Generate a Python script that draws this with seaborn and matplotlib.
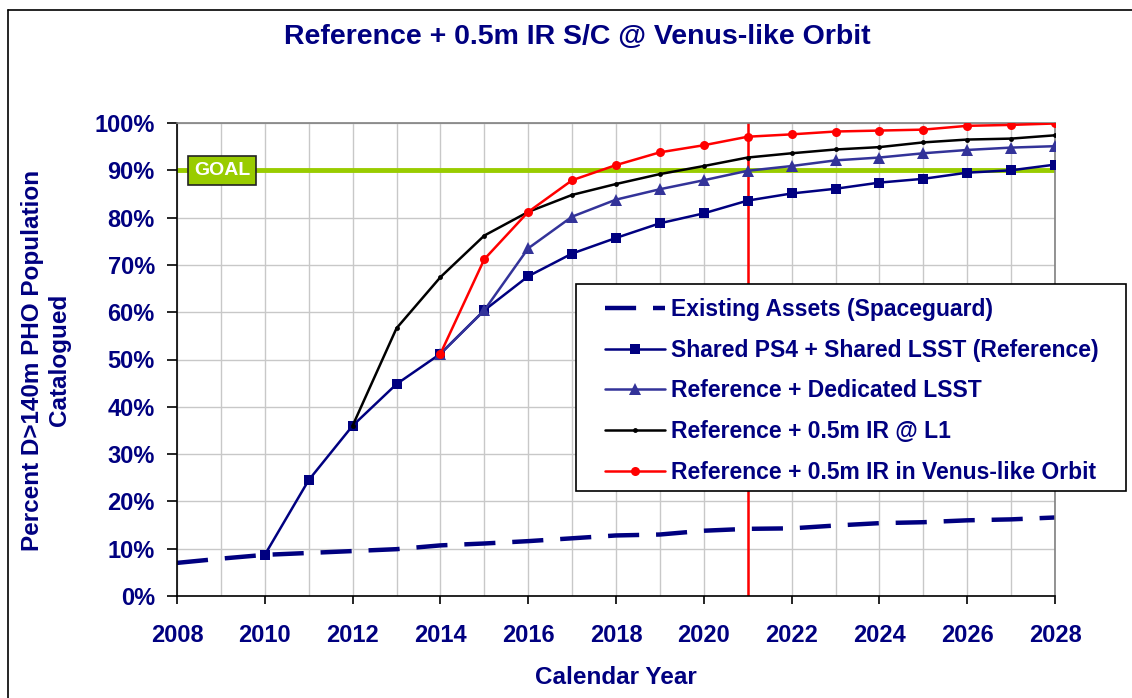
import matplotlib
matplotlib.use("Agg")
import matplotlib.pyplot as plt
import seaborn as sns
import pandas as pd
from matplotlib.patches import Rectangle
from matplotlib.lines import Line2D
from matplotlib.ticker import MultipleLocator, FuncFormatter

# ---------------- data ----------------
years_existing = list(range(2008, 2029))
existing = [7.0, 7.9, 8.7, 9.1, 9.5, 9.9, 10.7, 11.1, 11.6, 12.2, 12.8,
            13.0, 13.8, 14.2, 14.3, 14.9, 15.4, 15.6, 16.0, 16.2, 16.6]

years_ref = list(range(2010, 2029))
reference = [8.7, 24.5, 36.0, 44.8, 51.2, 60.4, 67.6, 72.4, 75.7, 78.8,
             80.9, 83.6, 85.1, 86.1, 87.4, 88.2, 89.5, 90.0, 91.2]

years_ded = list(range(2014, 2029))
dedicated = [51.2, 60.4, 73.5, 80.2, 83.8, 86.0, 87.9, 89.9, 90.9, 92.1,
             92.7, 93.6, 94.3, 94.8, 95.1]

years_l1 = list(range(2012, 2029))
ir_l1 = [36.0, 56.6, 67.4, 76.2, 81.2, 84.8, 87.1, 89.2, 90.9, 92.7,
         93.6, 94.4, 94.9, 95.9, 96.5, 96.7, 97.4]

years_venus = list(range(2014, 2029))
ir_venus = [51.2, 71.2, 81.2, 87.9, 91.1, 93.8, 95.3, 97.1, 97.6, 98.2,
            98.4, 98.6, 99.4, 99.6, 99.9]

goal_value = 90
marker_year = 2021

labels = ["Existing Assets (Spaceguard)",
          "Shared PS4 + Shared LSST (Reference)",
          "Reference + Dedicated LSST",
          "Reference + 0.5m IR @ L1",
          "Reference + 0.5m IR in Venus-like Orbit"]

title = "Reference + 0.5m IR S/C @ Venus-like Orbit"
ylabel = "Percent D>140m PHO Population\nCatalogued"
xlabel = "Calendar Year"

# ---------------- style ----------------
sns.set_theme(style="white")
plt.rcParams['font.family'] = ['Liberation Sans', 'DejaVu Sans']
plt.rcParams['font.weight'] = 'bold'
NAVY = '#000080'

W, H = 1132, 698
fig = plt.figure(figsize=(W / 100, H / 100), dpi=100)
fig.patch.set_facecolor('white')
ax = fig.add_axes([177 / W, 1 - 596 / H, (1055 - 177) / W, (596 - 123) / H])

c_navy = '#000080'
c_ded = '#333399'
c_black = '#000000'
c_red = '#FF0000'
c_goal = '#99CC00'

ax.axhline(goal_value, color=c_goal, lw=3.5, zorder=1.5)

sns.lineplot(x=years_existing, y=existing, ax=ax, color=c_navy, lw=3.2,
             zorder=2)
ax.lines[-1].set_dashes((7, 3.8))
ax.axvline(marker_year, color=c_red, lw=1.8, zorder=2.5)
sns.lineplot(x=years_ref, y=reference, ax=ax, color=c_navy, lw=1.8,
             marker='s', markersize=6.5, markeredgewidth=0, zorder=3)
sns.lineplot(x=years_ded, y=dedicated, ax=ax, color=c_ded, lw=1.8,
             marker='^', markersize=8, markeredgewidth=0, zorder=4)
sns.lineplot(x=years_l1, y=ir_l1, ax=ax, color=c_black, lw=1.8,
             marker='o', markersize=3.5, markeredgewidth=0, zorder=5)
sns.lineplot(x=years_venus, y=ir_venus, ax=ax, color=c_red, lw=1.8,
             marker='o', markersize=6.5, markeredgewidth=0, zorder=6)

ax.set_xlim(2008, 2028)
ax.set_ylim(0, 100)
ax.xaxis.set_major_locator(MultipleLocator(2))
ax.xaxis.set_minor_locator(MultipleLocator(1))
ax.yaxis.set_major_locator(MultipleLocator(10))
ax.yaxis.set_major_formatter(FuncFormatter(lambda v, p: f"{v:.0f}%"))
ax.grid(True, which='both', axis='x', color='#C8C8C8', lw=1)
ax.grid(True, which='major', axis='y', color='#C8C8C8', lw=1)
ax.set_axisbelow(True)

for s in ['left', 'bottom']:
    ax.spines[s].set_color('black')
    ax.spines[s].set_linewidth(1.2)
for s in ['top', 'right']:
    ax.spines[s].set_color('#808080')
    ax.spines[s].set_linewidth(1.2)

ax.tick_params(axis='x', which='major', direction='out', length=6,
               width=1.2, color='black', pad=14, labelsize=17,
               labelcolor=NAVY, bottom=True)
ax.tick_params(axis='x', which='minor', length=0)
ax.tick_params(axis='y', which='major', direction='out', length=7,
               width=1.2, color='black', pad=9, labelsize=17,
               labelcolor=NAVY, left=True)
for t in ax.get_xticklabels() + ax.get_yticklabels():
    t.set_fontweight('bold')

# GOAL label
ax.text(2009.03, goal_value, "GOAL", color='white', fontsize=14,
        fontweight='bold', ha='center', va='center', zorder=7,
        bbox=dict(boxstyle='square,pad=0.3', facecolor=c_goal,
                  edgecolor='#222222', lw=1.2))

# titles
fig.text(577 / W, 1 - 37 / H, title, ha='center', va='center',
         fontsize=20.5, fontweight='bold', color=NAVY)
fig.text(616 / W, 1 - 677 / H, xlabel, ha='center', va='center',
         fontsize=17.5, fontweight='bold', color=NAVY)
fig.text(46 / W, 1 - 360 / H, ylabel, ha='center', va='center',
         rotation=90, fontsize=17.5, fontweight='bold', color=NAVY,
         multialignment='center', linespacing=1.2)

# legend
handles = [
    Line2D([], [], color=c_navy, lw=3.2, dashes=(7, 3.8)),
    Line2D([], [], color=c_navy, lw=1.8, marker='s', markersize=6.5, markeredgewidth=0),
    Line2D([], [], color=c_ded, lw=1.8, marker='^', markersize=8, markeredgewidth=0),
    Line2D([], [], color=c_black, lw=1.8, marker='o', markersize=3.5, markeredgewidth=0),
    Line2D([], [], color=c_red, lw=1.8, marker='o', markersize=6.5, markeredgewidth=0),
]
frame = Rectangle((576 / W, 1 - 491 / H), (1126 - 576) / W, (491 - 284) / H,
                  transform=fig.transFigure, facecolor='white',
                  edgecolor='black', lw=1.2, zorder=8, clip_on=False)
ax.add_artist(frame)
leg = ax.legend(handles, labels, loc='upper left',
                bbox_to_anchor=(605 / W, 1 - 298 / H),
                bbox_transform=fig.transFigure, frameon=False,
                borderpad=0, borderaxespad=0, handlelength=2.6,
                handletextpad=0.3, labelspacing=0.77, fontsize=16.5)
leg.set_zorder(9)
for t in leg.get_texts():
    t.set_color(NAVY)
    t.set_fontweight('bold')

# outer chart border (left and top edges)
fig.add_artist(Line2D([8 / W, 8 / W], [0, 1 - 10 / H], color='black',
                      lw=1.2, transform=fig.transFigure))
fig.add_artist(Line2D([8 / W, 1], [1 - 10 / H, 1 - 10 / H], color='black',
                      lw=1.2, transform=fig.transFigure))

fig.savefig("out.png", dpi=100, facecolor='white')
